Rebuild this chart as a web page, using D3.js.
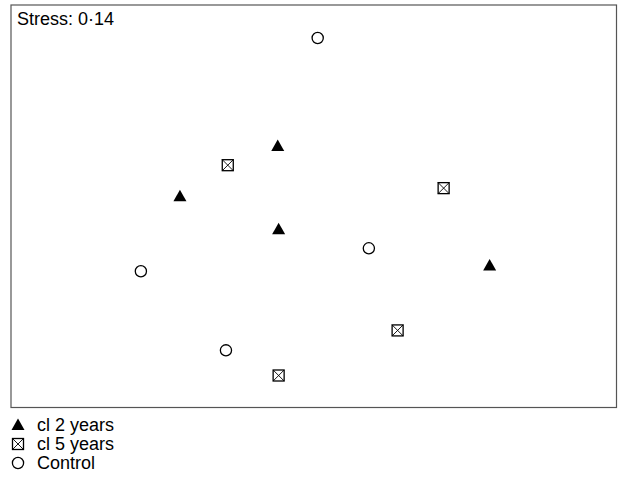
<!DOCTYPE html>
<html>
<head>
<meta charset="utf-8">
<script src="https://cdn.jsdelivr.net/npm/d3@7"></script>
<style>
  body { margin: 0; background: #fff; }
  text { font-family: "Liberation Sans", Arial, sans-serif; }
</style>
</head>
<body>
<svg id="chart" width="618" height="477"></svg>
<script>
// NMDS scores
const groups = ['cl 2 years', 'cl 5 years', 'Control'];
const cl2X = [-0.119, -0.442, -0.116, 0.581];
const cl2Y = [0.299, 0.050, -0.114, -0.294];
const cl5X = [-0.284, 0.429, 0.277, -0.116];
const cl5Y = [0.204, 0.090, -0.617, -0.841];
const ctrlX = [0.013, 0.182, -0.571, -0.290];
const ctrlY = [0.836, -0.209, -0.323, -0.716];
const stressLabel = 'Stress: 0·14';

const svg = d3.select('#chart');
const box = { left: 11, top: 5, right: 616.5, bottom: 407.5 };

const x = d3.scaleLinear().domain([-1, 1]).range([box.left, box.right]);
const y = d3.scaleLinear().domain([-1, 1]).range([box.bottom, box.top]);

svg.append('rect')
  .attr('x', box.left)
  .attr('y', box.top)
  .attr('width', box.right - box.left)
  .attr('height', box.bottom - box.top)
  .attr('fill', 'none')
  .attr('stroke', '#555')
  .attr('stroke-width', 1.2);

svg.append('text')
  .attr('x', box.left + 6)
  .attr('y', 25)
  .attr('font-size', 18)
  .text(stressLabel);

// marker drawers
const drawTri = (g, cx, cy) => {
  g.append('path')
    .attr('d', `M${cx},${cy - 6.5}L${cx + 6.5},${cy + 5}L${cx - 6.5},${cy + 5}Z`)
    .attr('fill', '#000');
};
const drawBox = (g, cx, cy) => {
  const s = 5.5;
  g.append('rect')
    .attr('x', cx - s).attr('y', cy - s)
    .attr('width', 2 * s).attr('height', 2 * s)
    .attr('fill', '#fff').attr('stroke', '#000').attr('stroke-width', 1.3);
  g.append('path')
    .attr('d', `M${cx - s},${cy - s}L${cx + s},${cy + s}M${cx + s},${cy - s}L${cx - s},${cy + s}`)
    .attr('stroke', '#000').attr('stroke-width', 0.9);
};
const drawCircle = (g, cx, cy) => {
  g.append('circle')
    .attr('cx', cx).attr('cy', cy).attr('r', 5.6)
    .attr('fill', '#fff').attr('stroke', '#000').attr('stroke-width', 1.3);
};

const pts = svg.append('g');
cl2X.forEach((v, i) => drawTri(pts, x(v), y(cl2Y[i])));
cl5X.forEach((v, i) => drawBox(pts, x(v), y(cl5Y[i])));
ctrlX.forEach((v, i) => drawCircle(pts, x(v), y(ctrlY[i])));

// legend
const drawers = [drawTri, drawBox, drawCircle];
const legend = svg.append('g');
groups.forEach((name, i) => {
  const ly = 425 + i * 19;
  drawers[i](legend, 18, ly);
  legend.append('text')
    .attr('x', 37)
    .attr('y', ly + 6)
    .attr('font-size', 18)
    .text(name);
});
</script>
</body>
</html>
